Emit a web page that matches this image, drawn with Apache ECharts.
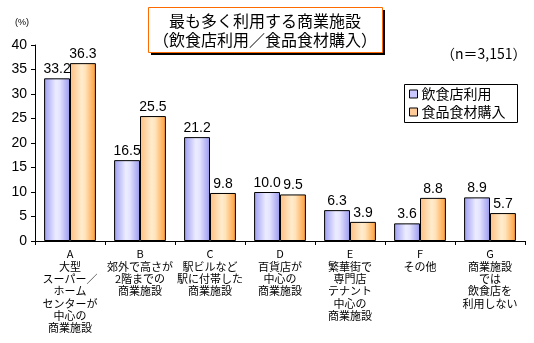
<!DOCTYPE html>
<html><head><meta charset="utf-8">
<script src="https://cdn.jsdelivr.net/npm/echarts@6/dist/echarts.min.js"></script>
<style>html,body{margin:0;padding:0;background:#fff}#c{width:534px;height:343px}</style>
</head><body><div id="c"></div>
<script>
const categories = [
  "A\n大型\nスーパー／\nホーム\nセンターが\n中心の\n商業施設",
  "B\n郊外で高さが\n2階までの\n商業施設",
  "C\n駅ビルなど\n駅に付帯した\n商業施設",
  "D\n百貨店が\n中心の\n商業施設",
  "E\n繁華街で\n専門店\nテナント\n中心の\n商業施設",
  "F\nその他",
  "G\n商業施設\nでは\n飲食店を\n利用しない"
];
const seriesNames = ["飲食店利用", "食品食材購入"];
const restaurantUse = [33.2, 16.5, 21.2, 10.0, 6.3, 3.6, 8.9];
const foodPurchase = [36.3, 25.5, 9.8, 9.5, 3.9, 8.8, 5.7];
const yTicks = [0, 5, 10, 15, 20, 25, 30, 35, 40];
const titleLines = ["最も多く利用する商業施設", "（飲食店利用／食品食材購入）"];
const noteText = "（n＝3,151）";

const JP = '"Noto Sans CJK JP", sans-serif';
const NUM = '"Liberation Sans", Arial, sans-serif';
const blueGrad = new echarts.graphic.LinearGradient(0,0,1,0,[
  {offset:0,color:'#9c9cf2'},{offset:0.45,color:'#ececff'},{offset:0.6,color:'#e4e4ff'},{offset:1,color:'#9898ee'}]);
const orangeGrad = new echarts.graphic.LinearGradient(0,0,1,0,[
  {offset:0,color:'#ffbf80'},{offset:0.45,color:'#ffeccd'},{offset:0.6,color:'#ffe2b8'},{offset:1,color:'#ff9a33'}]);

const chart = echarts.init(document.getElementById('c'), null, {renderer:'canvas'});
chart.setOption({
  animation:false,
  graphic:[
    {type:'rect', shape:{x:151, y:10, width:234, height:45}, style:{fill:'#000'}, z:10},
    {type:'rect', shape:{x:148.5, y:7.5, width:234, height:45}, style:{fill:'#fff', stroke:'#ff6a00', lineWidth:1}, z:11},
    {type:'text', x:265, y:11, z:12, style:{text:titleLines.join('\n'), font:'16px '+JP, lineHeight:19, fill:'#000', align:'center'}},
    {type:'text', left:15, top:18, style:{text:'(%)', font:'9px '+NUM, fill:'#000'}},
    {type:'text', left:441, top:47, style:{text:noteText, font:'14px '+JP, fill:'#000'}},
    {type:'rect', shape:{x:404.5, y:84.5, width:113, height:38}, style:{fill:'#fff', stroke:'#000', lineWidth:1}, z:1}
  ],
  legend:{
    orient:'vertical', left:406, top:86,
    padding:[1,3,1,3], itemGap:4, z:5,
    itemWidth:8, itemHeight:8, icon:'rect',
    textStyle:{fontFamily:JP, fontSize:14, color:'#000', padding:[0,0,0,-1]},
    data:[{name:seriesNames[0], itemStyle:{color:'#c8c8ff', borderColor:'#000', borderWidth:1}},
          {name:seriesNames[1], itemStyle:{color:'#ffcc99', borderColor:'#000', borderWidth:1}}]
  },
  grid:{left:35, right:9, top:45, bottom:102, containLabel:false},
  xAxis:{
    type:'category', data:categories,
    axisLine:{lineStyle:{color:'#000', width:1}},
    axisTick:{show:true, length:4, lineStyle:{color:'#000'}},
    axisLabel:{fontFamily:JP, fontSize:11, color:'#000', lineHeight:12.3, interval:0, margin:7}
  },
  yAxis:{
    type:'value', min:yTicks[0], max:yTicks[yTicks.length-1], interval:5,
    splitLine:{show:false},
    axisLine:{show:true, lineStyle:{color:'#000'}},
    axisTick:{show:true, inside:false, length:4, lineStyle:{color:'#000'}},
    axisLabel:{fontFamily:NUM, fontSize:14, color:'#000', margin:8}
  },
  series:[
    {name:seriesNames[0], type:'bar', data:restaurantUse, barGap:'0%', barCategoryGap:'26%',
     itemStyle:{color:blueGrad, borderColor:'#000', borderWidth:1},
     label:{show:true, position:'top', distance:2, fontFamily:NUM, fontSize:14, color:'#000', formatter:p=>p.value.toFixed(1)}},
    {name:seriesNames[1], type:'bar', data:foodPurchase,
     itemStyle:{color:orangeGrad, borderColor:'#000', borderWidth:1},
     label:{show:true, position:'top', distance:2, fontFamily:NUM, fontSize:14, color:'#000', formatter:p=>p.value.toFixed(1)}}
  ]
});
</script></body></html>
